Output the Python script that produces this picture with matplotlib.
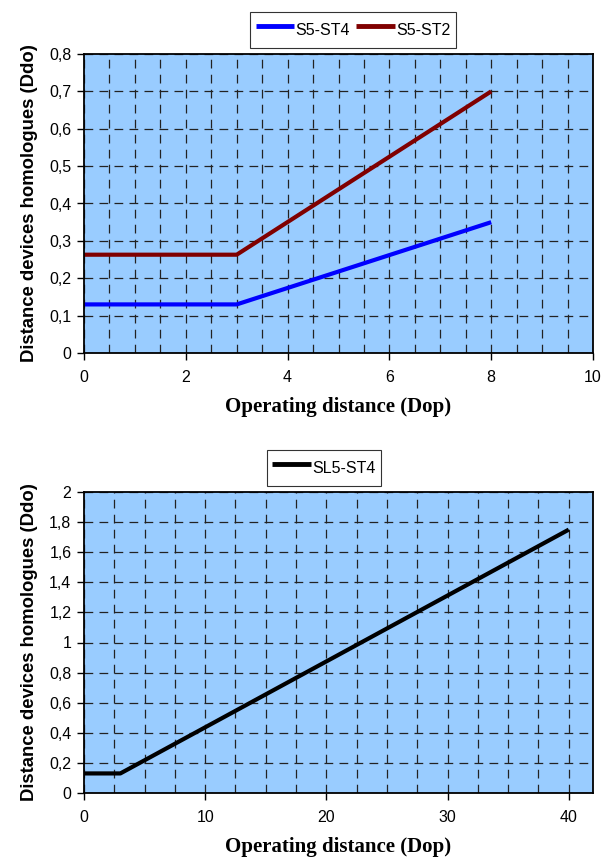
import matplotlib
matplotlib.use("Agg")
import matplotlib.pyplot as plt
from matplotlib.ticker import MultipleLocator, FuncFormatter

# ---- data ----
top_x = [0, 3, 8]
s5_st4 = [0.13, 0.13, 0.35]
s5_st2 = [0.263, 0.263, 0.70]
bot_x = [0, 3, 40]
sl5_st4 = [0.13, 0.13, 1.75]
top_labels = ["S5-ST4", "S5-ST2"]
bot_labels = ["SL5-ST4"]
ylabel_txt = "Distance devices homologues (Ddo)"
xlabel_txt = "Operating distance (Dop)"

plt.rcParams['font.family'] = ['Liberation Sans', 'DejaVu Sans']

fig = plt.figure(figsize=(6.01, 8.57), dpi=100)
W, H = 601, 857

def mk_ax(l, r, t, b):
    return fig.add_axes([l / W, 1 - b / H, (r - l) / W, (b - t) / H])

def fmt(v, pos):
    s = ("%.1f" % v).rstrip('0').rstrip('.')
    return s.replace('.', ',')

def style(ax, xmax, xmaj, xminor, ymax, ymaj):
    ax.set_facecolor('#99CCFF')
    ax.set_xlim(0, xmax)
    ax.set_ylim(0, ymax)
    ax.xaxis.set_major_locator(MultipleLocator(xmaj))
    ax.xaxis.set_minor_locator(MultipleLocator(xminor))
    ax.yaxis.set_major_locator(MultipleLocator(ymaj))
    ax.yaxis.set_major_formatter(FuncFormatter(fmt))
    ax.xaxis.set_major_formatter(FuncFormatter(fmt))
    ax.grid(True, which='both', axis='x', color='#222222', linestyle=(0, (7, 5)), linewidth=0.9)
    ax.grid(True, which='major', axis='y', color='#222222', linestyle=(0, (7, 5)), linewidth=0.9)
    ax.set_axisbelow(True)
    for s in ax.spines.values():
        s.set_color('black')
        s.set_linewidth(1.3)
    ax.tick_params(axis='both', which='major', direction='out', length=5, width=1, labelsize=11.5, pad=4)
    ax.tick_params(axis='x', which='minor', length=0)
    ax.tick_params(axis='x', pad=7)
    ax.set_ylabel(ylabel_txt, fontweight='bold', fontsize=13.3, labelpad=8)
    ax.set_xlabel(xlabel_txt, fontfamily='Liberation Serif', fontweight='bold', fontsize=15, labelpad=9)

ax1 = mk_ax(84, 593, 54, 353)
style(ax1, 10, 2, 0.5, 0.8, 0.1)
ax1.plot(top_x, s5_st4, color='#0000FF', linewidth=3, label=top_labels[0], solid_capstyle='butt')
ax1.plot(top_x, s5_st2, color='#800000', linewidth=3, label=top_labels[1], solid_capstyle='butt')
leg1 = ax1.legend(loc='center', bbox_to_anchor=((353 - 84) / 509, 1 + 24 / 299), ncol=2,
                  frameon=True, fancybox=False, edgecolor='black', fontsize=11.5,
                  handlelength=2.4, handleheight=2.1, handletextpad=0.1, columnspacing=0.4,
                  borderpad=0.35)
leg1.get_frame().set_linewidth(0.8)
for l in leg1.get_lines():
    l.set_linewidth(3.5)

ax2 = mk_ax(84, 593, 492, 793)
style(ax2, 42, 10, 2.5, 2, 0.2)
ax2.plot(bot_x, sl5_st4, color='black', linewidth=3, label=bot_labels[0], solid_capstyle='butt')
leg2 = ax2.legend(loc='center', bbox_to_anchor=((324 - 84) / 509, 1 + 24 / 301), ncol=1,
                  frameon=True, fancybox=False, edgecolor='black', fontsize=11.5,
                  handlelength=2.4, handleheight=2.0, handletextpad=0.1, borderpad=0.35)
leg2.get_frame().set_linewidth(0.8)
for l in leg2.get_lines():
    l.set_linewidth(3.5)

fig.savefig('out.png', dpi=100)
